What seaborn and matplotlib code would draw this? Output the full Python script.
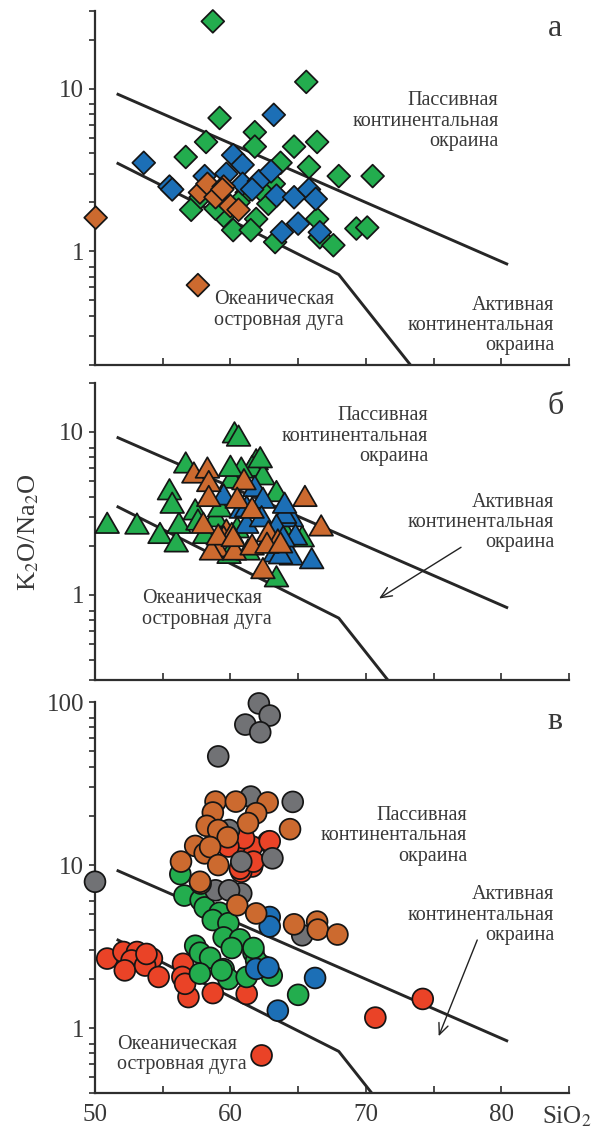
import numpy as np
import pandas as pd
import matplotlib
matplotlib.use("Agg")
import matplotlib.pyplot as plt
from matplotlib.path import Path
from matplotlib.markers import MarkerStyle
from matplotlib.ticker import LogLocator, FixedLocator, NullFormatter, FixedFormatter
import seaborn as sns

# ---------------- data ----------------
# panel a (diamonds)
a_green_x = [58.7, 65.6, 59.2, 61.8, 58.2, 61.8, 64.7, 66.4, 56.7, 63.7, 65.8, 68.0, 70.5, 57.1, 59.5,
             61.9, 60.2, 61.5, 62.8, 63.3, 66.4, 66.6, 67.6, 69.3, 70.1, 63.2, 61.2, 57.8, 58.9, 60.6, 62.2]
a_green_y = [25.9, 11.0, 6.6, 5.4, 4.7, 4.4, 4.4, 4.7, 3.8, 3.5, 3.3, 2.9, 2.9, 1.8, 1.65,
             1.58, 1.35, 1.35, 1.96, 1.14, 1.58, 1.22, 1.09, 1.38, 1.40, 2.6, 2.3, 2.15, 1.83, 2.0, 2.4]
a_blue_x = [63.2, 53.6, 60.2, 60.9, 59.7, 58.1, 55.5, 55.7, 60.9, 62.1, 63.0, 61.6, 63.4, 64.7, 65.8,
            66.3, 65.0, 63.8, 66.6]
a_blue_y = [6.9, 3.5, 3.9, 3.4, 3.0, 2.9, 2.5, 2.4, 2.6, 2.7, 3.1, 2.4, 2.2, 2.15, 2.4,
            2.1, 1.48, 1.31, 1.31]
a_orange_x = [50.05, 57.6, 57.75, 58.3, 58.9, 59.5, 60.0, 60.6, 59.4]
a_orange_y = [1.61, 0.62, 2.3, 2.6, 2.15, 2.5, 1.9, 1.8, 2.4]

# panel b (triangles)
b_green_x = [50.9, 53.1, 54.8, 56.0, 56.2, 55.5, 55.7, 56.7, 60.3, 60.6, 57.4, 61.9, 61.6, 62.4, 63.4,
             60.8, 60.1, 63.4, 58.1, 58.9, 65.3, 59.9, 61.3, 64.0, 62.2, 60.0, 57.6, 59.2, 62.8, 60.5]
b_green_y = [2.77, 2.74, 2.4, 2.13, 2.77, 4.45, 3.68, 6.5, 9.95, 9.5, 3.35, 6.8, 6.2, 5.5, 4.34,
             6.05, 5.25, 1.3, 2.4, 3.04, 2.29, 1.81, 1.9, 2.52, 7.0, 6.2, 2.9, 3.5, 2.2, 2.6]
b_blue_x = [59.5, 61.8, 62.4, 60.8, 64.5, 64.0, 64.8, 64.5, 66.0, 63.3, 61.2, 62.3, 64.0, 63.7, 63.4,
            61.2, 63.9]
b_blue_y = [4.14, 4.66, 3.95, 3.43, 3.04, 3.19, 2.35, 1.77, 1.68, 1.85, 2.77, 3.04, 3.68, 1.8, 2.7,
            3.5, 2.29]
b_orange_x = [57.3, 58.3, 58.4, 58.4, 61.0, 60.5, 61.6, 65.5, 66.7, 58.0, 59.7, 59.5, 59.0, 60.3, 61.6,
              62.8, 63.5, 62.4, 62.7, 60.1, 58.6, 63.7, 59.1, 60.2]
b_orange_y = [5.64, 6.05, 5.0, 4.05, 5.13, 3.95, 3.43, 4.05, 2.67, 2.77, 2.52, 2.29, 1.99, 1.9, 2.04,
              2.46, 2.19, 1.46, 2.09, 2.4, 1.9, 2.1, 2.35, 2.3]

# panel c (circles)
c_red_x = [62.8, 61.6, 60.3, 61.0, 61.6, 60.8, 59.85, 62.9, 60.7, 61.7, 50.9, 52.1, 53.1, 52.7, 52.2,
           54.2, 53.7, 54.7, 56.5, 56.45, 56.9, 58.7, 61.2, 56.65, 62.3, 74.2, 70.7, 53.8]
c_red_y = [13.9, 13.0, 13.0, 14.6, 9.8, 9.1, 13.0, 14.0, 9.5, 10.5, 2.67, 2.93, 2.93, 2.6, 2.26,
           2.67, 2.42, 2.06, 2.48, 2.06, 1.55, 1.64, 1.62, 1.87, 0.68, 1.51, 1.16, 2.85]
c_green_x = [56.3, 56.6, 57.8, 58.1, 59.2, 58.7, 59.85, 59.5, 60.7, 60.1, 57.4, 57.75, 61.7, 58.5, 59.5,
             57.75, 59.85, 61.2, 63.05, 62.4, 65.0, 61.9, 61.7, 59.35]
c_green_y = [8.8, 6.5, 6.1, 5.5, 5.1, 4.6, 4.4, 3.6, 3.5, 3.1, 3.2, 2.9, 2.9, 2.7, 2.3,
             2.16, 2.0, 2.06, 2.1, 2.4, 1.6, 2.6, 3.1, 2.26]
c_gray_x = [50.0, 62.1, 62.9, 61.1, 62.2, 59.1, 61.5, 64.6, 60.8, 63.1, 58.9, 60.8, 59.9, 65.3, 59.9]
c_gray_y = [7.9, 98, 82.6, 72.7, 65.2, 46.4, 26.3, 24.4, 10.5, 11.0, 7.0, 6.7, 7.0, 3.71, 16.4]
c_blue_x = [62.9, 62.9, 61.9, 62.8, 63.5, 66.25]
c_blue_y = [4.8, 4.2, 2.31, 2.35, 1.28, 2.03]
c_orange_x = [58.9, 60.4, 62.75, 58.7, 61.9, 58.25, 61.3, 59.1, 59.8, 64.4, 57.4, 58.1, 58.5, 56.35, 59.1,
              57.8, 60.5, 61.9, 64.7, 66.4, 66.45, 67.9, 57.75]
c_orange_y = [24.5, 24.5, 24.2, 21.0, 20.8, 17.4, 18.1, 16.4, 14.8, 16.6, 13.1, 11.8, 12.9, 10.5, 10.0,
              7.7, 5.67, 5.05, 4.33, 4.5, 4.02, 3.75, 7.9]

# discriminant boundaries (Roser & Korsch)
upper_x = [51.6, 80.5]
upper_y = [9.3, 0.83]
lower_x = [51.6, 68.0, 73.3]
lower_y = [3.5, 0.72, 0.2]

x_ticks = [50, 55, 60, 65, 70, 75, 80, 85]
x_ticklabels = ["50", "", "60", "", "70", "", "80", ""]

colors = {"green": "#23ad4e", "blue": "#1c6fb6", "orange": "#cc6a2f",
          "red": "#ea4327", "gray": "#717275"}

# ---------------- style ----------------
sns.set_style("ticks")
plt.rcParams["font.family"] = ["Liberation Serif", "DejaVu Serif"]
plt.rcParams["mathtext.fontset"] = "stix"
TXT = "#383838"
SP = "#2e2e2e"

fig = plt.figure(figsize=(6.02, 11.33), dpi=100)
L, W = 0.1578, 0.7874
ax_a = fig.add_axes([L, 0.6778, W, 0.3125])
ax_b = fig.add_axes([L, 0.3998, W, 0.2622])
ax_c = fig.add_axes([L, 0.0353, W, 0.3451])

tri = MarkerStyle(Path([(0, 0.866), (-1, -0.866), (1, -0.866), (0, 0.866)],
                       [Path.MOVETO, Path.LINETO, Path.LINETO, Path.CLOSEPOLY]))


def frame(groups):
    parts = []
    for name, xs, ys in groups:
        parts.append(pd.DataFrame({"SiO2": xs, "ratio": ys, "group": name}))
    return pd.concat(parts, ignore_index=True)


def draw(ax, df, marker, s, ylim, yticks, ylabels):
    ax.plot(upper_x, upper_y, color="#262626", lw=2.1, zorder=1, solid_capstyle="butt")
    ax.plot(lower_x, lower_y, color="#262626", lw=2.1, zorder=1, solid_capstyle="butt")
    sns.scatterplot(data=df, x="SiO2", y="ratio", hue="group", palette=colors, marker=marker,
                    s=s, edgecolor="#151515", linewidth=1.25, legend=False, ax=ax, zorder=3)
    for coll in ax.collections:
        coll.set_clip_on(False)
    ax.set_yscale("log")
    ax.set_xlim(50, 85)
    ax.set_ylim(*ylim)
    ax.yaxis.set_major_locator(FixedLocator(yticks))
    ax.yaxis.set_major_formatter(FixedFormatter(ylabels))
    ax.yaxis.set_minor_locator(LogLocator(base=10, subs=(2, 3, 4, 5, 6, 7, 8)))
    ax.yaxis.set_minor_formatter(NullFormatter())
    ax.set_xticks(x_ticks)
    ax.set_xticklabels([])
    ax.set_xlabel("")
    ax.set_ylabel("")
    for sp in ["top", "right"]:
        ax.spines[sp].set_visible(False)
    for sp in ["left", "bottom"]:
        ax.spines[sp].set_linewidth(1.6)
        ax.spines[sp].set_color(SP)
    ax.tick_params(axis="y", which="both", direction="out", length=4, width=1.2, color=SP,
                   labelsize=18, labelcolor=TXT, pad=4)
    ax.tick_params(axis="x", which="both", direction="in", length=5, width=1.2, color=SP,
                   labelsize=18, labelcolor=TXT, pad=8)
    ax.patch.set_alpha(0)


fs = 14.5
lab = dict(fontsize=fs, color=TXT, linespacing=1.1)
arrow_kw = dict(arrowstyle="->,head_length=0.8,head_width=0.35", color="#222222", lw=1.0)

# panel a
df_a = frame([("green", a_green_x, a_green_y), ("blue", a_blue_x, a_blue_y),
              ("orange", a_orange_x, a_orange_y)])
draw(ax_a, df_a, "D", 135, (0.2, 30), [1, 10], ["1", "10"])
ax_a.text(84.0, 23.3, "а", fontsize=23, color=TXT, ha="center", va="center")
ax_a.text(79.8, 6.3, "Пассивная\nконтинентальная\nокраина", ha="right", va="center",
          multialignment="right", **lab)
ax_a.text(83.9, 0.35, "Активная\nконтинентальная\nокраина", ha="right", va="center",
          multialignment="right", **lab)
ax_a.text(58.8, 0.435, "Океаническая\nостровная дуга", ha="left", va="center", **lab)

# panel b
df_b = frame([("green", b_green_x, b_green_y), ("blue", b_blue_x, b_blue_y),
              ("orange", b_orange_x, b_orange_y)])
draw(ax_b, df_b, tri, 290, (0.3, 20), [1, 10], ["1", "10"])
ax_b.text(84.0, 14.3, "б", fontsize=23, color=TXT, ha="center", va="center")
ax_b.text(74.6, 9.4, "Пассивная\nконтинентальная\nокраина", ha="right", va="center",
          multialignment="right", **lab)
ax_b.text(83.9, 2.78, "Активная\nконтинентальная\nокраина", ha="right", va="center",
          multialignment="right", **lab)
ax_b.text(53.5, 0.82, "Океаническая\nостровная дуга", ha="left", va="center", **lab)
ax_b.annotate("", xy=(70.8, 0.93), xytext=(77.2, 2.0), arrowprops=arrow_kw)

# panel c
df_c = frame([("red", c_red_x, c_red_y), ("green", c_green_x, c_green_y),
              ("gray", c_gray_x, c_gray_y), ("blue", c_blue_x, c_blue_y),
              ("orange", c_orange_x, c_orange_y)])
draw(ax_c, df_c, "o", 225, (0.4, 100), [1, 10, 100], ["1", "10", "100"])
ax_c.set_xticklabels(x_ticklabels)
ax_c.text(84.0, 75.9, "в", fontsize=23, color=TXT, ha="center", va="center")
ax_c.text(77.5, 15.1, "Пассивная\nконтинентальная\nокраина", ha="right", va="center",
          multialignment="right", **lab)
ax_c.text(83.9, 4.92, "Активная\nконтинентальная\nокраина", ha="right", va="center",
          multialignment="right", **lab)
ax_c.text(51.6, 0.69, "Океаническая\nостровная дуга", ha="left", va="center", **lab)
ax_c.annotate("", xy=(75.3, 0.86), xytext=(78.3, 3.6), arrowprops=arrow_kw)

fig.text(29 / 602, 1 - 532 / 1133, r"K$_2$O/Na$_2$O", rotation=90, fontsize=19, color=TXT,
         ha="center", va="center")
fig.text(567 / 602, 1 - 1117 / 1133, r"SiO$_2$", fontsize=18, color=TXT, ha="center", va="center")

fig.savefig("out.png", dpi=100)
